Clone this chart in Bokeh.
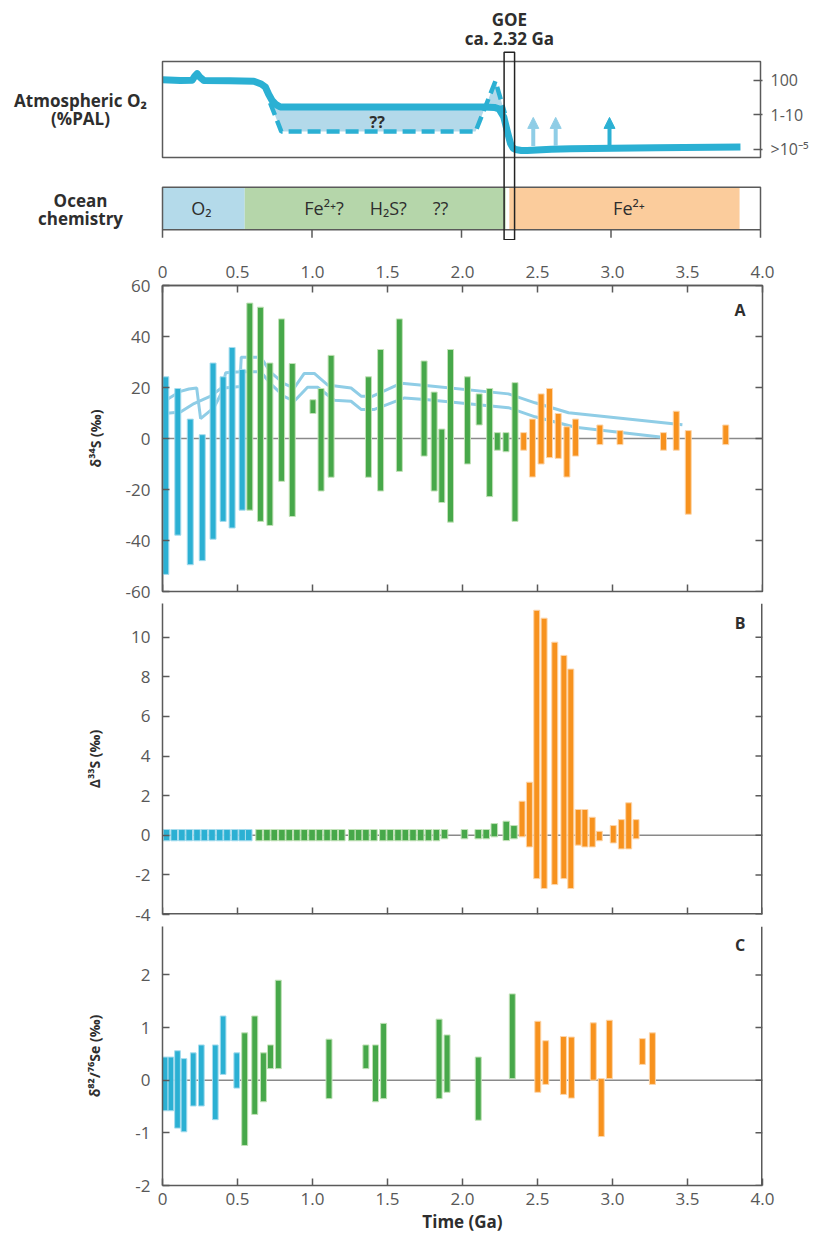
from bokeh.plotting import figure
from bokeh.layouts import column, row
from bokeh.models import (Range1d, LinearAxis, FixedTicker, Span, Label, Arrow,
                          NormalHead, ColumnDataSource, BoxAnnotation)
from bokeh.embed import file_html
from bokeh.resources import INLINE

# ---------------------------------------------------------------- data
X_TICKS = [0.0, 0.5, 1.0, 1.5, 2.0, 2.5, 3.0, 3.5, 4.0]
X_TICK_LABELS = ["0", "0.5", "1.0", "1.5", "2.0", "2.5", "3.0", "3.5", "4.0"]
OCEAN_TICKS = [0.0, 1.0, 2.0, 3.0, 4.0]

# atmospheric O2 (level index: 0 = >1e-5, 1 = 1-10, 2 = 100 %PAL)
O2_LEVELS = [0, 1, 2]
O2_LEVEL_LABELS = [">10⁻⁵", "1-10", "100"]
O2_SOLID_X = [0.0, 0.12, 0.199, 0.215, 0.232, 0.25, 0.277, 0.45, 0.611, 0.66, 0.688,
              0.71, 0.733, 0.76, 0.788, 1.5, 2.149, 2.22, 2.25, 2.283, 2.305, 2.328,
              2.345, 2.361, 2.40, 2.44, 2.60, 2.73, 3.3, 3.866]
O2_SOLID_Y = [2.02, 2.0, 2.01, 2.12, 2.2, 2.1, 2.0, 1.99, 1.98, 1.9, 1.81,
              1.6, 1.42, 1.3, 1.23, 1.23, 1.23, 1.22, 1.18, 0.94, 0.55, 0.17,
              0.04, 0.0, -0.03, -0.03, 0.01, 0.02, 0.05, 0.07]
O2_MIN_X = [0.72, 0.795, 2.094, 2.227, 2.29]
O2_MIN_Y = [1.35, 0.52, 0.52, 1.98, 1.05]
O2_WHIFF_X = [2.48, 2.63, 2.99]
O2_WHIFF_BASE = [0.1, 0.1, 0.1]
O2_WHIFF_TOP = [0.93, 0.93, 0.93]
GOE_AGE = 2.32

# ocean chemistry
OCEAN_START = [0.0, 0.55, 2.32]
OCEAN_END = [0.55, 2.295, 3.86]
OCEAN_LABELS = ["O₂", "Fe²⁺?", "H₂S?", "??", "Fe²⁺"]
OCEAN_LABEL_X = [0.26, 1.08, 1.51, 1.86, 3.12]

# panel A: d34S
A_BLUE_X = [0.022, 0.102, 0.185, 0.265, 0.337, 0.404, 0.464, 0.531]
A_BLUE_MAX = [24.2, 19.6, 7.6, 1.5, 29.6, 24.2, 35.7, 27.1]
A_BLUE_MIN = [-53.3, -37.9, -49.5, -47.9, -39.5, -32.5, -35.1, -28.1]
A_GREEN_X = [0.582, 0.653, 0.716, 0.794, 0.865, 1.003, 1.057, 1.124, 1.373, 1.454, 1.579,
             1.744, 1.811, 1.862, 1.920, 2.033, 2.111, 2.181, 2.232, 2.290, 2.350]
A_GREEN_MAX = [53.1, 51.5, 29.6, 46.9, 29.4, 15.2, 19.6, 32.6, 24.2, 34.9, 46.9,
               30.4, 18.2, 3.7, 34.9, 24.2, 17.5, 19.6, 2.3, 2.3, 21.9]
A_GREEN_MIN = [-28.1, -32.5, -34.1, -16.8, -30.6, 9.8, -20.6, -15.2, -15.2, -20.6, -12.9,
               -6.9, -20.6, -25.1, -32.8, -10.0, 5.3, -22.8, -4.6, -5.2, -32.5]
A_ORANGE_X = [2.408, 2.466, 2.524, 2.580, 2.638, 2.696, 2.754, 2.916, 3.050, 3.340, 3.425,
              3.505, 3.755]
A_ORANGE_MAX = [2.3, 7.6, 17.5, 19.6, 9.8, 4.6, 7.6, 5.3, 3.1, 2.3, 10.7, 3.1, 5.3]
A_ORANGE_MIN = [-4.6, -15.1, -10.0, -7.5, -7.8, -15.1, -6.9, -2.4, -2.4, -4.6, -4.6, -29.7, -2.4]
A_SW1_X = [0.03, 0.12, 0.176, 0.228, 0.254, 0.343, 0.41, 0.52, 0.525, 0.655, 0.72, 0.81,
           0.878, 0.967, 1.034, 1.146, 1.257, 1.324, 1.413, 1.614, 1.77, 2.306, 2.484,
           2.752, 3.332]
A_SW1_Y = [15.3, 18.5, 19.4, 19.8, 7.8, 12.1, 19.8, 20.4, 26.2, 26.2, 21.5, 16.5,
           14.6, 20.1, 20.1, 15.0, 14.6, 11.4, 11.4, 15.9, 15.2, 12.1, 8.5, 4.4, 0.5]
A_SW2_X = [0.03, 0.12, 0.21, 0.321, 0.399, 0.421, 0.52, 0.525, 0.655, 0.72, 0.81, 0.878,
           0.945, 1.012, 1.10, 1.257, 1.324, 1.402, 1.592, 1.77, 2.306, 2.484, 2.707, 3.466]
A_SW2_Y = [9.9, 10.4, 13.7, 16.6, 20.1, 25.8, 26.2, 31.9, 31.9, 26.0, 21.5, 19.8,
           25.5, 25.5, 21.0, 19.8, 16.6, 16.6, 21.7, 20.7, 17.5, 14.0, 10.1, 5.4]
A_YTICKS = [-60, -40, -20, 0, 20, 40, 60]
A_YTICK_LABELS = ["-60", "-40", "-20", "0", "20", "40", "60"]

# panel B: D33S
B_BLUE_X = [0.027, 0.078, 0.129, 0.178, 0.230, 0.279, 0.330, 0.381, 0.430, 0.482, 0.531, 0.575]
B_BLUE_MAX = [0.29, 0.29, 0.29, 0.29, 0.29, 0.29, 0.29, 0.29, 0.29, 0.29, 0.29, 0.29]
B_BLUE_MIN = [-0.28, -0.28, -0.28, -0.28, -0.28, -0.28, -0.28, -0.28, -0.28, -0.28, -0.28, -0.28]
B_GREEN_X = [0.644, 0.696, 0.745, 0.796, 0.845, 0.896, 0.945, 0.997, 1.046, 1.097, 1.146,
             1.195, 1.262, 1.307, 1.356, 1.409, 1.469, 1.518, 1.570, 1.619, 1.670, 1.721,
             1.773, 1.826, 1.880, 2.013, 2.105, 2.158, 2.212, 2.292, 2.343]
B_GREEN_MAX = [0.29, 0.29, 0.29, 0.29, 0.29, 0.29, 0.29, 0.29, 0.29, 0.29, 0.29,
               0.29, 0.29, 0.29, 0.29, 0.29, 0.29, 0.29, 0.29, 0.29, 0.29, 0.29,
               0.29, 0.29, 0.29, 0.29, 0.29, 0.29, 0.59, 0.71, 0.49]
B_GREEN_MIN = [-0.28, -0.28, -0.28, -0.28, -0.28, -0.28, -0.28, -0.28, -0.28, -0.28, -0.28,
               -0.28, -0.28, -0.28, -0.28, -0.28, -0.28, -0.28, -0.28, -0.28, -0.28, -0.28,
               -0.28, -0.28, -0.18, -0.18, -0.18, -0.18, -0.08, -0.27, -0.18]
B_ORANGE_X = [2.397, 2.446, 2.495, 2.544, 2.615, 2.676, 2.722, 2.771, 2.816, 2.865, 2.912,
              3.005, 3.059, 3.108, 3.157]
B_ORANGE_MAX = [1.72, 2.68, 11.36, 10.96, 9.75, 9.08, 8.39, 1.30, 1.30, 0.91, 0.20,
                0.49, 0.79, 1.64, 0.79]
B_ORANGE_MIN = [-0.08, -0.59, -2.19, -2.69, -2.49, -2.19, -2.69, -0.50, -0.59, -0.59, -0.28,
                -0.39, -0.69, -0.69, -0.18]
B_YTICKS = [-4, -2, 0, 2, 4, 6, 8, 10]
B_YTICK_LABELS = ["-4", "-2", "0", "2", "4", "6", "8", "10"]

# panel C: d82/76Se
C_BLUE_X = [0.018, 0.056, 0.100, 0.143, 0.205, 0.259, 0.352, 0.404, 0.495]
C_BLUE_MAX = [0.44, 0.44, 0.56, 0.41, 0.52, 0.67, 0.67, 1.22, 0.52]
C_BLUE_MIN = [-0.58, -0.58, -0.91, -0.98, -0.49, -0.49, -0.75, 0.11, -0.15]
C_GREEN_X = [0.548, 0.615, 0.673, 0.720, 0.772, 1.110, 1.356, 1.420, 1.474, 1.844, 1.897,
             2.105, 2.332]
C_GREEN_MAX = [0.90, 1.22, 0.52, 0.67, 1.90, 0.78, 0.67, 0.67, 1.08, 1.16, 0.86, 0.44, 1.64]
C_GREEN_MIN = [-1.24, -0.65, -0.41, 0.22, 0.22, -0.35, 0.22, -0.41, -0.35, -0.35, -0.23,
               -0.76, 0.03]
C_ORANGE_X = [2.502, 2.555, 2.673, 2.726, 2.872, 2.925, 2.979, 3.199, 3.266]
C_ORANGE_MAX = [1.12, 0.75, 0.83, 0.82, 1.09, 0.03, 1.14, 0.79, 0.90]
C_ORANGE_MIN = [-0.23, -0.08, -0.27, -0.34, 0.0, -1.07, 0.03, 0.30, -0.08]
C_YTICKS = [-2, -1, 0, 1, 2]
C_YTICK_LABELS = ["-2", "-1", "0", "1", "2"]

# ---------------------------------------------------------------- style
FONT = "Open Sans"
AXC = "#5a5a5a"
TXT = "#2e2e2e"
TICKTXT = "#585858"
BLUE, BLUE_EDGE = "#2BB0D3", "#A6DCEE"
GREEN, GREEN_EDGE = "#47A84A", "#C2E2B8"
ORANGE, ORANGE_EDGE = "#F7921E", "#FDD6AB"
OCEAN_COLORS = ["#B4DAEA", "#B5D6AA", "#FBCC9C"]
W, LB, RB = 814, 162, 52
PX_PER_GA = 149.5
TICK = 7


def style_axis(ax, ticks, overrides, standoff=10, size="17px"):
    ax.ticker = FixedTicker(ticks=ticks)
    ax.axis_line_color = AXC
    ax.axis_line_width = 1.5
    ax.major_tick_line_color = AXC
    ax.major_tick_line_width = 1.5
    ax.major_tick_in = TICK
    ax.major_tick_out = 0
    ax.minor_tick_line_color = None
    ax.major_label_text_font = FONT
    ax.major_label_text_color = TICKTXT
    ax.major_label_text_font_size = size
    ax.major_label_standoff = standoff
    ax.major_label_overrides = overrides


def txt(x, y, text, size="17px", bold=True, color=TXT, align="center"):
    return Label(x=x, y=y, text=text, text_align=align, text_baseline="middle",
                 text_font=FONT, text_font_size=size,
                 text_font_style="bold" if bold else "normal", text_color=color)


def bars(p, xs, tops, bots, width, color, edge):
    p.vbar(x=xs, top=tops, bottom=bots, width=width, fill_color=color,
           line_color=edge, line_width=1)


# ---------------------------------------------------------------- top panel
Y0 = (-2.638, 4.087)
pad = 2 / PX_PER_GA
p0 = figure(width=W - 160, height=240, x_range=Range1d(-pad, 4 + pad), y_range=Range1d(*Y0),
            x_axis_type=None, y_axis_type=None, toolbar_location=None,
            output_backend="svg", min_border_left=0, min_border_right=RB,
            min_border_top=8, min_border_bottom=0, outline_line_color=None)

p0.quad(left=OCEAN_START, right=OCEAN_END, top=-1.093, bottom=-2.328,
        fill_color=OCEAN_COLORS, line_color=None)

lo, hi = O2_MIN_X[0], O2_MIN_X[-1]
upper = [(x, y) for x, y in zip(O2_SOLID_X, O2_SOLID_Y) if lo <= x <= hi]
fill_x = O2_MIN_X + [x for x, _ in reversed(upper)]
fill_y = O2_MIN_Y + [y for _, y in reversed(upper)]
p0.patch(fill_x, fill_y, fill_color="#B3D9EA", line_color=None)
p0.line(O2_MIN_X, O2_MIN_Y, line_color=BLUE, line_width=4.5, line_dash="13 6")
p0.line(O2_SOLID_X, O2_SOLID_Y, line_color=BLUE, line_width=7,
        line_join="round", line_cap="butt")

for xs, c in ((O2_WHIFF_X[:2], "#8FCDE6"), (O2_WHIFF_X[2:], BLUE)):
    n = len(xs)
    src = ColumnDataSource(dict(x=xs, y0=O2_WHIFF_BASE[:n], y1=O2_WHIFF_TOP[:n]))
    p0.add_layout(Arrow(x_start="x", y_start="y0", x_end="x", y_end="y1", source=src,
                        line_color=c, line_width=4,
                        end=NormalHead(size=11, fill_color=c, line_color=c)))

p0.add_layout(BoxAnnotation(left=0, right=4, bottom=-0.232, top=2.55, fill_alpha=0,
                            line_color=AXC, line_width=1.5, line_alpha=1))
p0.add_layout(BoxAnnotation(left=0, right=4, bottom=-2.328, top=-1.093, fill_alpha=0,
                            line_color=AXC, line_width=1.5, line_alpha=1))
p0.segment(x0=OCEAN_TICKS, x1=OCEAN_TICKS, y0=-2.328, y1=-2.56, line_color=AXC,
           line_width=1.5)
p0.add_layout(BoxAnnotation(left=GOE_AGE - 0.035, right=GOE_AGE + 0.035, bottom=-2.617,
                            top=2.82, fill_alpha=0, line_color="#222222", line_width=1.5,
                            line_alpha=1))

ax0 = LinearAxis()
style_axis(ax0, O2_LEVELS, dict(zip(O2_LEVELS, O2_LEVEL_LABELS)), standoff=8, size="16px")
ax0.axis_line_color = None
ax0.major_tick_in = 9
p0.add_layout(ax0, "right")

p0.add_layout(txt(GOE_AGE, 3.77, "GOE"))
p0.add_layout(txt(GOE_AGE, 3.22, "ca. 2.32 Ga"))
p0.add_layout(txt(1.436, 0.81, "??", size="16px"))
for lx, lt in zip(OCEAN_LABEL_X, OCEAN_LABELS):
    p0.add_layout(txt(lx, -1.71, lt, size="18px", bold=False))

# left-hand row titles
pL = figure(width=160, height=240, x_range=Range1d(0, 160), y_range=Range1d(*Y0),
            x_axis_type=None, y_axis_type=None, toolbar_location=None,
            output_backend="svg", min_border_left=0, min_border_right=0,
            min_border_top=8, min_border_bottom=0, outline_line_color=None)
pL.add_layout(txt(80, 1.42, "Atmospheric O₂"))
pL.add_layout(txt(80, 0.90, "(%PAL)"))
pL.add_layout(txt(80, -1.48, "Ocean"))
pL.add_layout(txt(80, -2.0, "chemistry"))

# ---------------------------------------------------------------- panels


def panel(height, yr, yticks, ylabels, ylabel, lstand, tb, bb, above=False, outline=False,
          bottom_line=False):
    p = figure(width=W, height=height, x_range=Range1d(0, 4), y_range=Range1d(*yr),
               x_axis_location="above" if above else "below", toolbar_location=None,
               output_backend="svg", min_border_left=LB, min_border_right=RB,
               min_border_top=tb, min_border_bottom=bb,
               outline_line_color=AXC if outline else None, outline_line_width=1.5)
    p.xgrid.visible = False
    p.ygrid.visible = False
    ya = p.yaxis[0]
    style_axis(ya, yticks, dict(zip(yticks, ylabels)), standoff=12)
    ya.axis_label = ylabel
    ya.axis_label_text_font = FONT
    ya.axis_label_text_font_style = "bold"
    ya.axis_label_text_font_size = "14px"
    ya.axis_label_text_color = TXT
    ya.axis_label_standoff = lstand
    p.add_layout(Span(location=0, dimension="width", line_color="#8a8a8a",
                      line_width=1.5, level="underlay"))
    # right-hand frame line with inward ticks
    ymin, ymax = yr
    dx = TICK / PX_PER_GA
    n = len(yticks)
    if not outline:
        p.segment(x0=[4], x1=[4], y0=[ymin], y1=[ymax], line_color=AXC, line_width=3)
    p.segment(x0=[4] * n, x1=[4 - dx] * n, y0=yticks, y1=yticks, line_color=AXC,
              line_width=1.5)
    if bottom_line:
        dy = TICK * (ymax - ymin) / (height - tb - bb)
        m = len(X_TICKS)
        if not outline:
            p.segment(x0=[0], x1=[4], y0=[ymin], y1=[ymin], line_color=AXC, line_width=3)
        p.segment(x0=X_TICKS, x1=X_TICKS, y0=[ymin] * m, y1=[ymin + dy] * m,
                  line_color=AXC, line_width=1.5)
    return p


# frames: A 285-591, B 603-914, C 926-1185 (px); B/C tops trimmed so that the
# lowest tick label of the panel above is not cut off
pA = panel(363, (-60, 60), A_YTICKS, A_YTICK_LABELS, "δ³⁴S (‰)", 18, 45, 12,
           above=True, outline=True, bottom_line=True)
style_axis(pA.xaxis[0], X_TICKS, dict(zip(X_TICKS, X_TICK_LABELS)), standoff=8)
pA.line(A_SW1_X, A_SW1_Y, line_color="#8FCDE6", line_width=3)
pA.line(A_SW2_X, A_SW2_Y, line_color="#8FCDE6", line_width=3)
bars(pA, A_BLUE_X, A_BLUE_MAX, A_BLUE_MIN, 0.04, BLUE, BLUE_EDGE)
bars(pA, A_GREEN_X, A_GREEN_MAX, A_GREEN_MIN, 0.04, GREEN, GREEN_EDGE)
bars(pA, A_ORANGE_X, A_ORANGE_MAX, A_ORANGE_MIN, 0.04, ORANGE, ORANGE_EDGE)
pA.add_layout(txt(3.85, 50.2, "A", size="16px"))

pB = panel(323, (-4, 11.7), B_YTICKS, B_YTICK_LABELS, "Δ³³S (‰)", 24, 0, 12,
           bottom_line=True)
pB.xaxis.visible = False
bars(pB, B_BLUE_X, B_BLUE_MAX, B_BLUE_MIN, 0.044, BLUE, BLUE_EDGE)
bars(pB, B_GREEN_X, B_GREEN_MAX, B_GREEN_MIN, 0.044, GREEN, GREEN_EDGE)
bars(pB, B_ORANGE_X, B_ORANGE_MAX, B_ORANGE_MIN, 0.04, ORANGE, ORANGE_EDGE)
pB.add_layout(txt(3.85, 10.74, "B", size="16px"))

pC = panel(316, (-2, 2.92), C_YTICKS, C_YTICK_LABELS, "δ⁸²/⁷⁶Se (‰)", 28, 0, 57)
xc = pC.xaxis[0]
style_axis(xc, X_TICKS, dict(zip(X_TICKS, X_TICK_LABELS)), standoff=7)
xc.axis_label = "Time (Ga)"
xc.axis_label_text_font = FONT
xc.axis_label_text_font_style = "bold"
xc.axis_label_text_font_size = "17px"
xc.axis_label_text_color = TXT
xc.axis_label_standoff = 2
bars(pC, C_BLUE_X, C_BLUE_MAX, C_BLUE_MIN, 0.038, BLUE, BLUE_EDGE)
bars(pC, C_GREEN_X, C_GREEN_MAX, C_GREEN_MIN, 0.04, GREEN, GREEN_EDGE)
bars(pC, C_ORANGE_X, C_ORANGE_MAX, C_ORANGE_MIN, 0.04, ORANGE, ORANGE_EDGE)
pC.add_layout(txt(3.85, 2.56, "C", size="16px"))

layout = column(row(pL, p0, spacing=0), pA, pB, pC, spacing=0)
open("out.html", "w").write(file_html(layout, INLINE))
